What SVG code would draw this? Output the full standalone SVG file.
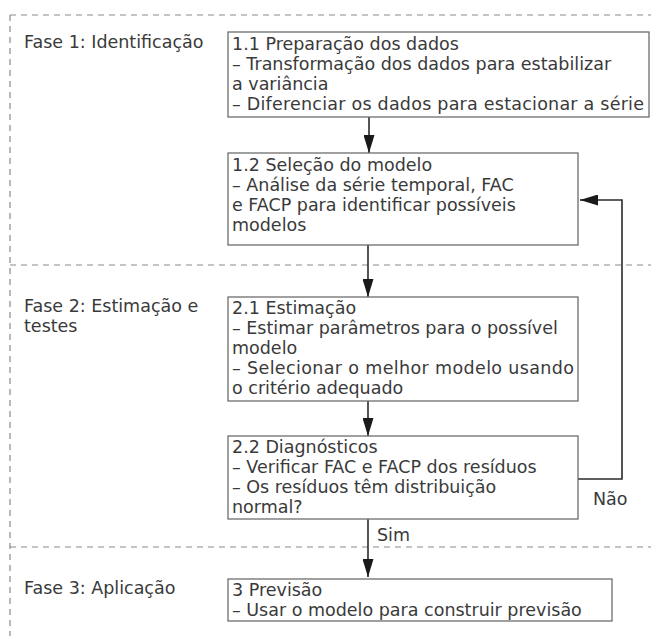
<svg xmlns="http://www.w3.org/2000/svg" width="651" height="636" viewBox="0 0 651 636">
<style>
.bg{fill:#ffffff}
.box{fill:#ffffff;stroke:#6e6e6e;stroke-width:1.3}
.dash{fill:none;stroke:#8a8a8a;stroke-width:1.2;stroke-dasharray:6 5}
.t{font-family:"DejaVu Sans","Liberation Sans",sans-serif;font-size:17.5px;fill:#3a3a3a}
.conn{fill:none;stroke:#2a2a2a;stroke-width:1.6}
</style>
<defs>
<marker id="ah" markerUnits="userSpaceOnUse" markerWidth="18" markerHeight="11" refX="18" refY="5.5" orient="auto">
<path d="M0,0 L18,5.5 L0,11 Z" fill="#1a1a1a"/>
</marker>
</defs>
<rect class="bg" x="0" y="0" width="651" height="636"/>
<g id="phase-lines">
<path class="dash" d="M10,15 H651"/>
<path class="dash" d="M10,15 V636"/>
<path class="dash" d="M10,265 H651"/>
<path class="dash" d="M10,547 H651"/>
</g>
<g id="labels">
<text class="t" x="24" y="48">Fase 1: Identificação</text>
<text class="t" x="24" y="312">Fase 2: Estimação e</text>
<text class="t" x="24" y="332">testes</text>
<text class="t" x="24" y="594">Fase 3: Aplicação</text>
</g>
<g id="connectors">
<path class="conn" d="M369,117 V153" marker-end="url(#ah)"/>
<path class="conn" d="M368,245 V297" marker-end="url(#ah)"/>
<path class="conn" d="M368,401 V436" marker-end="url(#ah)"/>
<path class="conn" d="M368,519 V577" marker-end="url(#ah)"/>
<path class="conn" d="M578,479 H622 V200 H580" marker-end="url(#ah)"/>
<text class="t" x="377" y="541">Sim</text>
<text class="t" x="593" y="505">Não</text>
</g>
<g id="n11">
<rect class="box" x="228" y="32" width="421" height="85"/>
<text class="t" x="232" y="50">1.1 Preparação dos dados</text>
<text class="t" x="232" y="70">– Transformação dos dados para estabilizar</text>
<text class="t" x="232" y="90">a variância</text>
<text class="t" x="232" y="110" textLength="412">– Diferenciar os dados para estacionar a série</text>
</g>
<g id="n12">
<rect class="box" x="228" y="153" width="350" height="92"/>
<text class="t" x="232" y="171">1.2 Seleção do modelo</text>
<text class="t" x="232" y="191">– Análise da série temporal, FAC</text>
<text class="t" x="232" y="211">e FACP para identificar possíveis</text>
<text class="t" x="232" y="231">modelos</text>
</g>
<g id="n21">
<rect class="box" x="228" y="297" width="350" height="104"/>
<text class="t" x="232" y="314">2.1 Estimação</text>
<text class="t" x="232" y="334">– Estimar parâmetros para o possível</text>
<text class="t" x="232" y="354">modelo</text>
<text class="t" x="232" y="374" textLength="342">– Selecionar o melhor modelo usando</text>
<text class="t" x="232" y="394">o critério adequado</text>
</g>
<g id="n22">
<rect class="box" x="228" y="436" width="350" height="83"/>
<text class="t" x="232" y="453">2.2 Diagnósticos</text>
<text class="t" x="232" y="473">– Verificar FAC e FACP dos resíduos</text>
<text class="t" x="232" y="493">– Os resíduos têm distribuição</text>
<text class="t" x="232" y="513">normal?</text>
</g>
<g id="n3">
<rect class="box" x="228" y="579" width="384" height="42"/>
<text class="t" x="232" y="596">3 Previsão</text>
<text class="t" x="232" y="616">– Usar o modelo para construir previsão</text>
</g>
</svg>
